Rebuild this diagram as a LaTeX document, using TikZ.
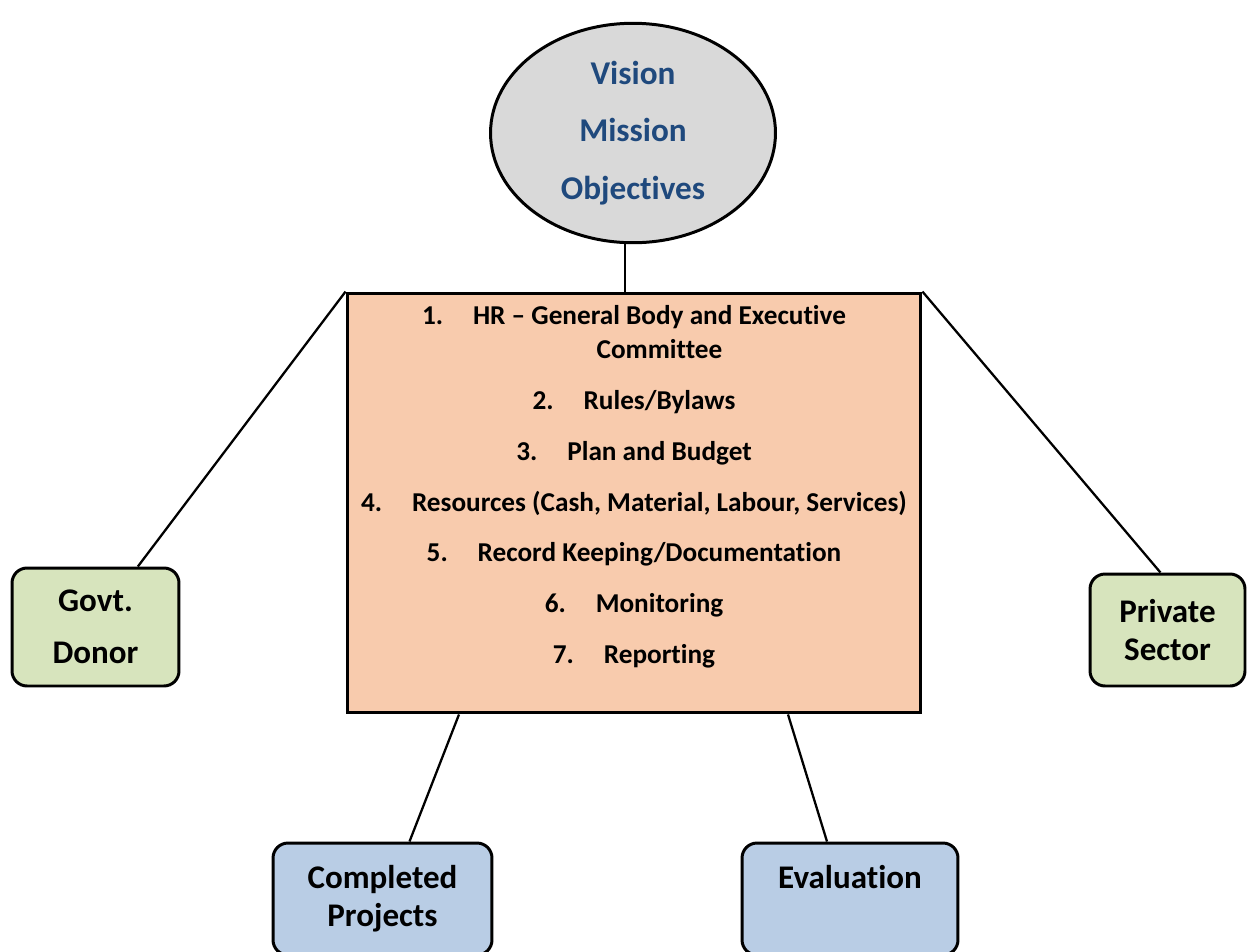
\documentclass[tikz,border=0pt]{standalone}
\usepackage{fontspec}
\setmainfont{Carlito}[Ligatures={TeX,NoCommon}]
\usetikzlibrary{shapes.geometric,calc}
\definecolor{vmogray}{HTML}{D9D9D9}
\definecolor{vmoblue}{HTML}{1F497D}
\definecolor{corepeach}{HTML}{F8CBAD}
\definecolor{sidegreen}{HTML}{D7E4BD}
\definecolor{outblue}{HTML}{B9CDE5}
\newcommand\itm[2]{\makebox[29pt][l]{#1}#2}
\begin{document}
\begin{tikzpicture}[x=0.02cm,y=-0.02cm,
	link/.style={line width=1.3pt},
	roundbox/.style={draw,line width=1.7pt,rounded corners=0.3cm,align=center,
		font=\fontsize{18.8}{21.5}\selectfont\bfseries,minimum height=2.24cm}]
	\useasboundingbox (0,0) rectangle (1248,951);
	\clip (0,0) rectangle (1248,951);
	% centre
	\node[ellipse,draw,line width=1.7pt,fill=vmogray,minimum width=5.7cm,minimum height=4.14cm,
		align=center,text=vmoblue,font=\fontsize{18.9}{32.6}\selectfont\bfseries] (vmo) at (633,133) {Vision\\Mission\\Objectives};
	\node[draw,line width=1.7pt,fill=corepeach,minimum width=11.48cm,minimum height=8.4cm] (core) at (634,503) {};
	\node[align=center,font=\fontsize{15.5}{19.3}\selectfont\bfseries] (list) at (634,487) {%
		\itm{1.}{HR -- General Body and Executive}\\
		\hspace{29pt}Committee\\[9.6pt]
		\itm{2.}{Rules/Bylaws}\\[9.6pt]
		\itm{3.}{Plan and Budget}\\[9.6pt]
		\itm{4.}{Resources (Cash, Material, Labour, Services)}\\[9.6pt]
		\itm{5.}{Record Keeping/Documentation}\\[9.6pt]
		\itm{6.}{Monitoring}\\[9.6pt]
		\itm{7.}{Reporting}};
	% partners and outputs
	\node[roundbox,fill=sidegreen,minimum width=3.34cm,minimum height=2.36cm,
		font=\fontsize{18.8}{29.5}\selectfont\bfseries] (govt) at (95.5,627) {Govt.\\Donor};
	\node[roundbox,fill=sidegreen,minimum width=3.1cm] (priv) at (1167.5,630) {Private\\Sector};
	\node[roundbox,fill=outblue,minimum width=4.38cm] (done) at (382.5,899) {Completed\\Projects};
	\node[roundbox,fill=outblue,minimum width=4.32cm] (eval) at (850,899) {Evaluation\\\vphantom{Projects}};
	% links
	\draw[link] ($(vmo.south)+(-8,0)$) -- ($(core.north)+(-9,0)$);
	\draw[link] (core.north west) -- (govt.55);
	\draw[link] (core.north east) -- (priv.97);
	\draw[link] ($(core.south)+(-175,0)$) -- ($(done.north)+(27,0)$);
	\draw[link] ($(core.south)+(154,0)$) -- ($(eval.north)+(-23,0)$);
\end{tikzpicture}
\end{document}
